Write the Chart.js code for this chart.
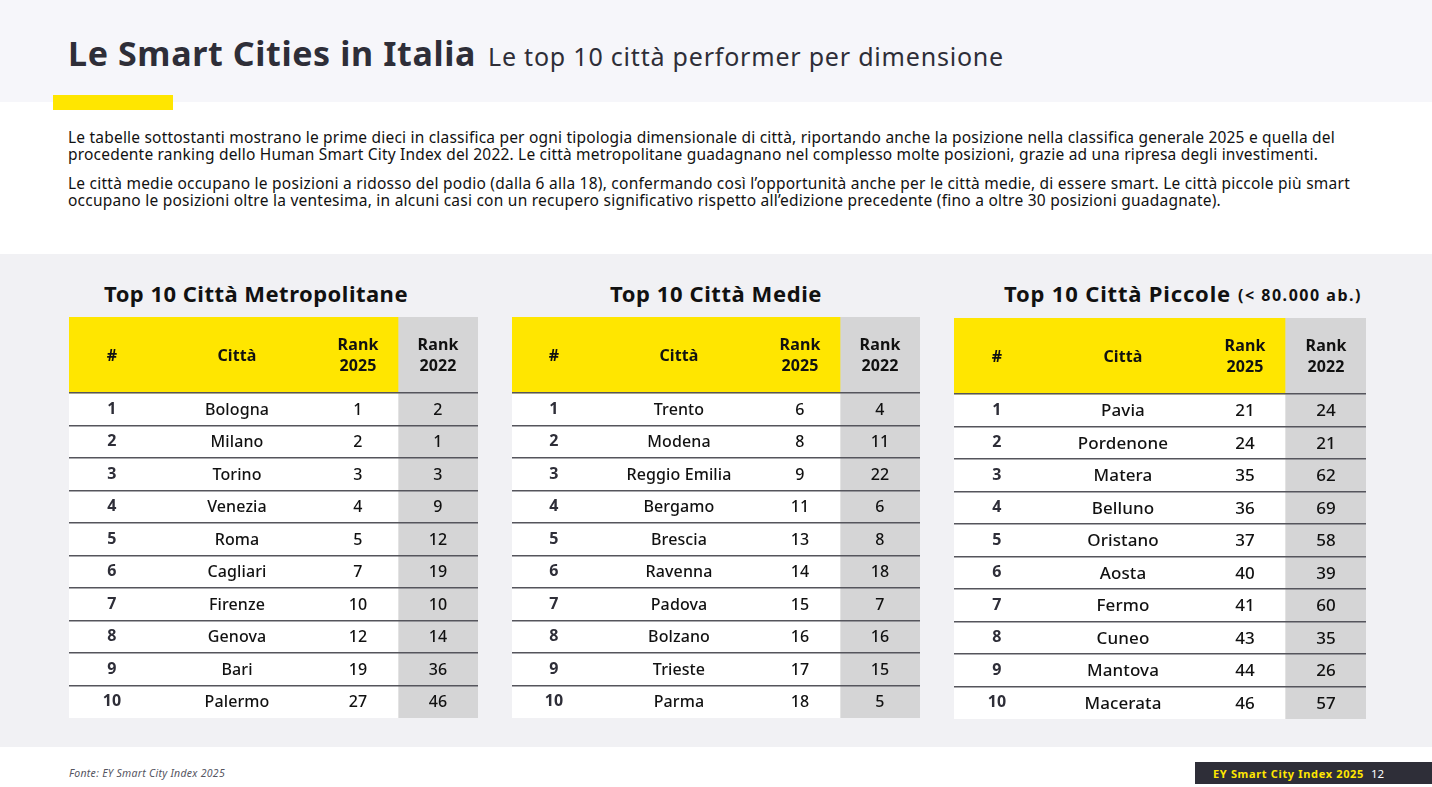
<!DOCTYPE html>
<html lang="it">
<head>
<meta charset="utf-8">
<title>Le Smart Cities in Italia</title>
<script src="https://cdn.jsdelivr.net/npm/chart.js@4"></script>
<style>
    html, body { margin: 0; padding: 0; background: #fff; }
    body { position: relative; width: 1432px; height: 787px; overflow: hidden; font-family: "Noto Sans", sans-serif; color: #2e2e38; }
    .box { position: absolute; }
    .t { position: absolute; white-space: nowrap; line-height: 1; }
    canvas { position: absolute; }
    .body { font-size: 15.5px; color: #111; }
    .tableTitle { font-size: 22px; font-weight: 700; color: #111; }
</style>
</head>
<body>
<div class="box" style="left:0;top:0;width:1432px;height:102px;background:#f6f6fa"></div>
<div class="box" style="left:53px;top:95px;width:120px;height:15px;background:#ffe600"></div>
<div class="box" style="left:0;top:254px;width:1432px;height:493px;background:#f1f1f4"></div>
<div class="box" style="left:1195px;top:762px;width:237px;height:22px;background:#2e2e38"></div>

<span class="t fit" data-w="408" style="left:68px;top:36px;font-size:34px;font-weight:700">Le Smart Cities in Italia</span>
<span class="t fit" data-w="516" style="left:488px;top:44px;font-size:25px">Le top 10 città performer per dimensione</span>

<span class="t body fit" data-w="1267" style="left:68px;top:130px">Le tabelle sottostanti mostrano le prime dieci in classifica per ogni tipologia dimensionale di città, riportando anche la posizione nella classifica generale 2025 e quella del</span>
<span class="t body fit" data-w="1250" style="left:68px;top:147px">procedente ranking dello Human Smart City Index del 2022. Le città metropolitane guadagnano nel complesso molte posizioni, grazie ad una ripresa degli investimenti.</span>
<span class="t body fit" data-w="1282" style="left:68px;top:176px">Le città medie occupano le posizioni a ridosso del podio (dalla 6 alla 18), confermando così l’opportunità anche per le città medie, di essere smart. Le città piccole più smart</span>
<span class="t body fit" data-w="1153" style="left:68px;top:193px">occupano le posizioni oltre la ventesima, in alcuni casi con un recupero significativo rispetto all’edizione precedente (fino a oltre 30 posizioni guadagnate).</span>

<span class="t tableTitle fit" data-w="304" style="left:104px;top:282px">Top 10 Città Metropolitane</span>
<span class="t tableTitle fit" data-w="212" style="left:610px;top:282px">Top 10 Città Medie</span>
<span class="t tableTitle fit" data-w="227" style="left:1004px;top:282px">Top 10 Città Piccole</span>
<span class="t fit" data-w="124" style="left:1238px;top:287px;font-size:16px;font-weight:700;color:#111">(&lt; 80.000 ab.)</span>

<canvas id="tableMetro" style="left:69px;top:317px"></canvas>
<canvas id="tableMedie" style="left:512px;top:317px"></canvas>
<canvas id="tablePiccole" style="left:954px;top:318px"></canvas>

<span class="t fit" data-w="156" style="left:69px;top:768px;font-size:10.5px;font-style:italic;color:#55555f">Fonte: EY Smart City Index 2025</span>
<span class="t fit" data-w="151" style="left:1213px;top:768px;font-size:11px;font-weight:700;color:#ffe600">EY Smart City Index 2025</span>
<span class="t" style="left:1371px;top:768px;font-size:11.5px;color:#fff">12</span>

<script>
var positions = ["1", "2", "3", "4", "5", "6", "7", "8", "9", "10"];

var metroCities = ["Bologna", "Milano", "Torino", "Venezia", "Roma", "Cagliari", "Firenze", "Genova", "Bari", "Palermo"];
var metroRank2025 = [1, 2, 3, 4, 5, 7, 10, 12, 19, 27];
var metroRank2022 = [2, 1, 3, 9, 12, 19, 10, 14, 36, 46];

var medieCities = ["Trento", "Modena", "Reggio Emilia", "Bergamo", "Brescia", "Ravenna", "Padova", "Bolzano", "Trieste", "Parma"];
var medieRank2025 = [6, 8, 9, 11, 13, 14, 15, 16, 17, 18];
var medieRank2022 = [4, 11, 22, 6, 8, 18, 7, 16, 15, 5];

var piccoleCities = ["Pavia", "Pordenone", "Matera", "Belluno", "Oristano", "Aosta", "Fermo", "Cuneo", "Mantova", "Macerata"];
var piccoleRank2025 = [21, 24, 35, 36, 37, 40, 41, 43, 44, 46];
var piccoleRank2022 = [24, 21, 62, 69, 58, 39, 60, 35, 26, 57];

var headers = [["#"], ["Città"], ["Rank", "2025"], ["Rank", "2022"]];

var HEADER_H = 76, ROW_H = 32.5, TABLE_H = 401;
var HEADER_ROWS = HEADER_H / ROW_H;
var YELLOW = '#ffe600', GRAY = '#d5d5d6', LINE = '#55555c';

// stretch each line of html text to the width it has in the slide
document.querySelectorAll('.fit').forEach(function (el) {
    var diff = parseFloat(el.dataset.w) - el.getBoundingClientRect().width;
    el.style.letterSpacing = (diff / el.textContent.length) + 'px';
});

// draws the cell texts at the scale position of column and row
var cellText = {
    id: 'cellText',
    afterDatasetsDraw: function (chart) {
        var o = chart.options.plugins.cellText;
        var ctx = chart.ctx, x = chart.scales.x, y = chart.scales.y;
        ctx.save();
        ctx.textAlign = 'center';
        ctx.textBaseline = 'middle';
        ctx.letterSpacing = o.spacing + 'px';

        ctx.fillStyle = '#111';
        ctx.font = '700 ' + o.headSize + 'px "Noto Sans"';
        var headMid = 0.5 - HEADER_ROWS / 2;
        headers.forEach(function (lines, c) {
            lines.forEach(function (line, i) {
                var shift = (i - (lines.length - 1) / 2) * 0.62;
                ctx.fillText(line, x.getPixelForValue(o.centers[c]), y.getPixelForValue(headMid + shift) + 1);
            });
        });

        positions.forEach(function (p, r) {
            var py = y.getPixelForValue(r + 1);
            ctx.fillStyle = '#2e2e38';
            ctx.font = '700 ' + o.headSize + 'px "Noto Sans"';
            ctx.fillText(p, x.getPixelForValue(o.centers[0]), py);
            ctx.fillStyle = '#111';
            ctx.font = '500 ' + o.bodySize + 'px "Noto Sans"';
            ctx.fillText(o.cities[r], x.getPixelForValue(o.centers[1]), py + 1);
            ctx.fillText(String(o.rank2025[r]), x.getPixelForValue(o.centers[2]), py + 1);
            ctx.fillText(String(o.rank2022[r]), x.getPixelForValue(o.centers[3]), py + 1);
        });
        ctx.restore();
    }
};

function makeTable(id, width, grayFrom, centers, cities, rank2025, rank2022, bodySize, spacing) {
    var canvas = document.getElementById(id);
    canvas.width = width;
    canvas.height = TABLE_H;
    canvas.style.width = width + 'px';
    canvas.style.height = TABLE_H + 'px';

    var rowY = positions.map(function (p) { return Number(p); });
    var headMid = 0.5 - HEADER_ROWS / 2;

    function bars(label, ys, from, to, color, thickness) {
        return {
            label: label,
            data: ys.map(function (v) { return { x: [from, to], y: v }; }),
            backgroundColor: color,
            barThickness: thickness,
            borderWidth: 0
        };
    }

    new Chart(canvas.getContext('2d'), {
        type: 'bar',
        data: {
            datasets: [
                bars('Header', [headMid], 0, grayFrom, YELLOW, HEADER_H),
                bars('Header 2022', [headMid], grayFrom, width, GRAY, HEADER_H),
                bars('Rows', rowY, 0, grayFrom, '#ffffff', ROW_H + 0.5),
                bars('Rows 2022', rowY, grayFrom, width, GRAY, ROW_H + 0.5)
            ]
        },
        options: {
            indexAxis: 'y',
            responsive: false,
            animation: false,
            devicePixelRatio: 1,
            grouped: false,
            layout: { padding: 0 },
            plugins: {
                legend: { display: false },
                title: { display: false },
                tooltip: { enabled: false },
                cellText: {
                    centers: centers, cities: cities, rank2025: rank2025, rank2022: rank2022,
                    headSize: 16, bodySize: bodySize, spacing: spacing
                }
            },
            scales: {
                x: { type: 'linear', display: false, min: 0, max: width },
                y: {
                    type: 'linear', reverse: true, offset: false,
                    min: 0.5 - HEADER_ROWS, max: 10.5,
                    afterBuildTicks: function (axis) {
                        axis.ticks = rowY.map(function (v) { return { value: v - 0.5 }; });
                    },
                    grid: { color: LINE, lineWidth: 1.6, drawTicks: false, offset: false, z: 1 },
                    border: { display: false },
                    ticks: { display: false }
                }
            }
        },
        plugins: [cellText]
    });
}

makeTable('tableMetro', 409, 329, [43, 168, 289, 369], metroCities, metroRank2025, metroRank2022, 16, 0.1);
makeTable('tableMedie', 408, 328, [42, 167, 288, 368], medieCities, medieRank2025, medieRank2022, 16, 0.1);
makeTable('tablePiccole', 412, 331, [43, 169, 291, 372], piccoleCities, piccoleRank2025, piccoleRank2022, 17, 0.1);
</script>
</body>
</html>
